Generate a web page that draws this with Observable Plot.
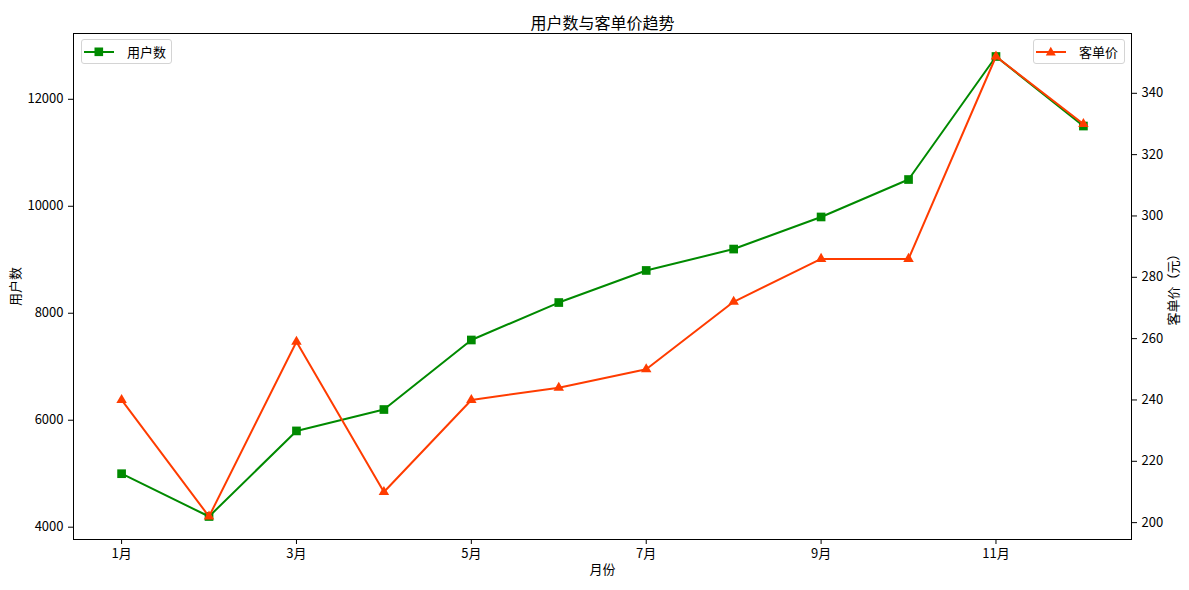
<!DOCTYPE html>
<html>
<head>
<meta charset="utf-8">
<script src="https://cdn.jsdelivr.net/npm/d3@7"></script>
<script src="https://cdn.jsdelivr.net/npm/@observablehq/plot@0.6"></script>
<style>
  html, body { margin: 0; padding: 0; background: white; }
  #wrap { position: relative; width: 1189px; height: 590px; font-family: "Noto Sans CJK SC", "Noto Sans", sans-serif; }
  .legend { position: absolute; box-sizing: border-box; border: 1px solid #d4d4d4; border-radius: 3px; background: rgba(255,255,255,0.8); height: 25px; display: flex; align-items: center; font-size: 13px; color: #000; }
  .legend svg { display: block; }
</style>
</head>
<body>
<div id="wrap"></div>
<script>
// ---- data ----
const months = [1, 2, 3, 4, 5, 6, 7, 8, 9, 10, 11, 12];
const users = [5000, 4200, 5800, 6200, 7500, 8200, 8800, 9200, 9800, 10500, 12800, 11500];
const prices = [240, 202, 259, 210, 240, 244, 250, 272, 286, 286, 352, 330];
const xTicks = [1, 3, 5, 7, 9, 11];
const leftTicks = [4000, 6000, 8000, 10000, 12000];
const rightTicks = [200, 220, 240, 260, 280, 300, 320, 340];
const title = "用户数与客单价趋势";
const xLabel = "月份";
const leftLabel = "用户数";
const rightLabel = "客单价（元）";
const seriesNames = ["用户数", "客单价"];

// ---- scales ----
const green = "#008a00";
const red = "#ff3c00";
const yDomain = [3770, 13230];
const pDomain = [194.5, 359.5];
const toY = p => yDomain[0] + (p - pDomain[0]) * (yDomain[1] - yDomain[0]) / (pDomain[1] - pDomain[0]);
const fromY = y => pDomain[0] + (y - yDomain[0]) * (pDomain[1] - pDomain[0]) / (yDomain[1] - yDomain[0]);

const userRows = months.map((m, i) => ({month: m, value: users[i]}));
const priceRows = months.map((m, i) => ({month: m, value: toY(prices[i])}));

const chart = Plot.plot({
  width: 1189,
  height: 590,
  marginLeft: 73,
  marginRight: 58,
  marginTop: 33,
  marginBottom: 51,
  style: {fontFamily: "'Noto Sans CJK SC', 'Noto Sans', sans-serif", fontSize: "13px", color: "black", background: "white"},
  x: {domain: [0.45, 12.55]},
  y: {domain: yDomain},
  marks: [
    Plot.axisX({ticks: xTicks, tickFormat: d => d + "月", tickSize: 5, tickPadding: 4, label: null, fontSize: 13}),
    Plot.axisY({ticks: leftTicks, tickFormat: d => String(d), tickSize: 5, tickPadding: 5, label: null, fontSize: 13}),
    Plot.axisY({anchor: "right", ticks: rightTicks.map(toY), tickFormat: v => String(Math.round(fromY(v))), tickSize: 5, tickPadding: 5, label: null, fontSize: 13}),
    Plot.line(userRows, {x: "month", y: "value", stroke: green, strokeWidth: 2}),
    Plot.dot(userRows, {x: "month", y: "value", symbol: "square", r: 4.9, fill: green, stroke: "none"}),
    Plot.line(priceRows, {x: "month", y: "value", stroke: red, strokeWidth: 2}),
    Plot.dot(priceRows, {x: "month", y: "value", symbol: "triangle", r: 3.9, fill: red, stroke: "none"}),
    Plot.frame({stroke: "black", strokeWidth: 1}),
    Plot.text([title], {frameAnchor: "top", dy: -16, fontSize: 16, fill: "black", textAnchor: "middle"}),
    Plot.text([xLabel], {frameAnchor: "bottom", dy: 34, fontSize: 13, fill: "black", textAnchor: "middle"}),
    Plot.text([leftLabel], {frameAnchor: "left", dx: -58, rotate: -90, fontSize: 13, fill: "black", textAnchor: "middle"}),
    Plot.text([rightLabel], {frameAnchor: "right", dx: 42, rotate: -90, fontSize: 13, fill: "black", textAnchor: "middle"})
  ]
});

const wrap = document.getElementById("wrap");
wrap.appendChild(chart);

// ---- legends ----
function legend(left, width, color, symbol, name) {
  const div = document.createElement("div");
  div.className = "legend";
  div.style.left = left + "px";
  div.style.top = "39px";
  div.style.width = width + "px";
  const sym = symbol === "square"
    ? `<rect x="10.5" y="6.5" width="8.6" height="8.6" fill="${color}"/>`
    : `<path d="M14.8,5.8 L19.8,14.6 L9.8,14.6 Z" fill="${color}"/>`;
  div.innerHTML = `<svg width="38" height="22" style="margin-left:2px"><line x1="0" y1="11" x2="30" y2="11" stroke="${color}" stroke-width="2"/>${sym}</svg><span style="margin-left:5px">${name}</span>`;
  wrap.appendChild(div);
}
legend(81, 91, green, "square", seriesNames[0]);
legend(1033, 92, red, "triangle", seriesNames[1]);
</script>
</body>
</html>
